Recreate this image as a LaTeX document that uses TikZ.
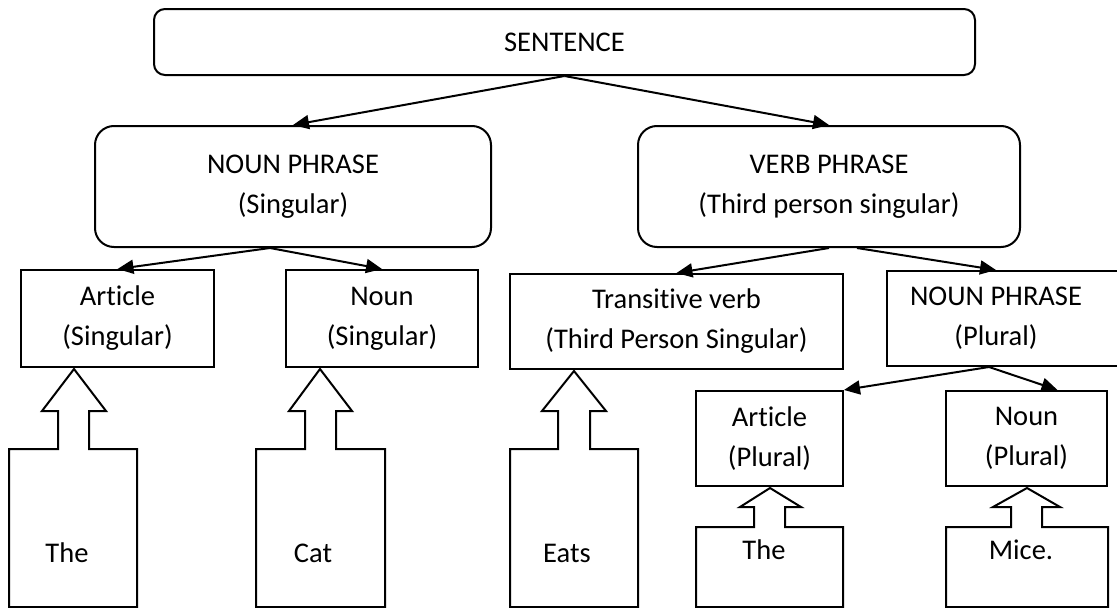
\documentclass[tikz,border=0pt]{standalone}
\usepackage{fontspec}
\setmainfont{Carlito}[Ligatures=NoCommon]
\usetikzlibrary{arrows.meta}

\begin{document}
\begin{tikzpicture}[x=1pt, y=-1pt, line width=2pt,
        every node/.style={font=\fontsize{28.5}{40}\selectfont, align=center, inner sep=0pt},
        roundbox/.style={draw, rounded corners=#1}, roundbox/.default=19pt,
        sqbox/.style={draw},
        link/.style={-{Triangle[length=16pt, width=14pt]}}]

        \useasboundingbox (0,0) rectangle (1117,608);

        \node[roundbox=11pt, minimum width=821pt, minimum height=66pt] (sentence) at (564.5,42) {SENTENCE};

        \node[roundbox, minimum width=396pt, minimum height=121pt] (np) at (293,186.5) {NOUN PHRASE\\(Singular)};
        \node[roundbox, minimum width=382pt, minimum height=121pt] (vp) at (829,186.5) {VERB PHRASE\\(Third person singular)};

        \node[sqbox, minimum width=193pt, minimum height=97pt] (art) at (117.5,318.5) {Article\\(Singular)};
        \node[sqbox, minimum width=192pt, minimum height=97pt] (noun) at (382,318.5) {Noun\\(Singular)};
        \node[sqbox, minimum width=333pt, minimum height=95pt] (tv) at (676.5,321.5) {Transitive verb\\(Third Person Singular)};
        \draw (887,271) rectangle (1130,366);
        \node[minimum width=218pt, minimum height=95pt] (npp) at (996,318.5) {NOUN PHRASE\\(Plural)};

        \node[sqbox, minimum width=147pt, minimum height=95pt] (artp) at (769.5,438.5) {Article\\(Plural)};
        \node[sqbox, minimum width=161pt, minimum height=95pt] (nounp) at (1026.5,438.5) {Noun\\(Plural)};

        \draw[link] (sentence.south) -- (np.north);
        \draw[link] (sentence.south) -- (vp.north);
        \draw[link] ([xshift=-23pt]np.south) -- (art.north);
        \draw[link] ([xshift=-23pt]np.south) -- (noun.north);
        \draw[link] (vp.south) -- (tv.north);
        \draw[link] ([xshift=28pt]vp.south) -- (npp.north);
        \draw[link] ([xshift=-7pt]npp.south) -- (artp.north east);
        \draw[link] ([xshift=-7pt]npp.south) -- ([xshift=31pt]nounp.north);

        \draw (9,607) -- (9,449) -- (58,449) -- (58,411) -- (42,411) -- (74,369) -- (106,411) -- (89,411) -- (89,449) -- (137,449) -- (137,607) -- cycle;
        \draw (256,607) -- (256,449) -- (305,449) -- (305,411) -- (289,411) -- (320,369) -- (352,411) -- (336,411) -- (336,449) -- (385,449) -- (385,607) -- cycle;
        \draw (510,607) -- (510,449) -- (558,449) -- (558,411) -- (542,411) -- (574,371) -- (606,411) -- (590,411) -- (590,449) -- (638,449) -- (638,607) -- cycle;
        \draw (696,607) -- (696,527) -- (754,527) -- (754,507) -- (740,507) -- (770,488) -- (801,507) -- (785,507) -- (785,527) -- (843,527) -- (843,607) -- cycle;
        \draw (946,607) -- (946,527) -- (1011,527) -- (1011,507) -- (993,507) -- (1027,488) -- (1060,507) -- (1042,507) -- (1042,527) -- (1108,527) -- (1108,607) -- cycle;

        \node[anchor=base] (the) at (67,562) {The};
        \node[anchor=base] (cat) at (313,562) {Cat};
        \node[anchor=base] (eats) at (567,562) {Eats};
        \node[anchor=base] (thep) at (764,559) {The};
        \node[anchor=base] (mice) at (1021,559) {Mice.};
    \end{tikzpicture}
\end{document}
